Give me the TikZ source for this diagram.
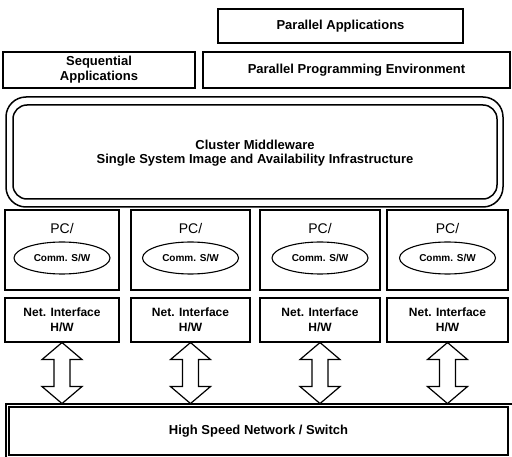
\documentclass[tikz,border=0pt]{standalone}
\usepackage{fontspec}
\setmainfont{Liberation Sans}
\usetikzlibrary{shapes.geometric}
\tikzset{
  box/.style={draw, line width=1.1pt, inner sep=0pt, align=center, font=\fontsize{13}{15}\selectfont\bfseries},
  netbox/.style={draw, line width=1.1pt, inner sep=0pt, align=center, font=\fontsize{12}{15}\selectfont\bfseries},
  pcbox/.style={draw, line width=1.1pt, inner sep=0pt},
  comm/.style={draw, ellipse, line width=1.1pt, minimum width=96pt, minimum height=32pt, inner sep=0pt, font=\fontsize{10}{12}\selectfont\bfseries},
  pclabel/.style={font=\fontsize{14}{16}\selectfont, inner sep=0pt},
  bigarrow/.style={draw, line width=1.2pt, fill=white, line join=miter},
  mwline/.style={draw, line width=1.5pt}
}
\begin{document}
\begin{tikzpicture}[x=1pt,y=-1pt]
\useasboundingbox (0,0) rectangle (512,457);
% top boxes
\node[box, minimum width=245pt, minimum height=34pt] (pa) at (340.5,26) {Parallel Applications};
\node[box, minimum width=192pt, minimum height=36pt] (seq) at (99,70) {Sequential\\Applications};
\node[box, minimum width=307pt, minimum height=36pt] (ppe) at (356.5,70) {Parallel Programming Environment};
% middleware
\draw[mwline, rounded corners=20pt] (6,97) rectangle (503,207);
\draw[mwline, rounded corners=14pt] (13,105) rectangle (497,199);
\node[align=center, inner sep=0pt, font=\fontsize{13}{14.5}\selectfont\bfseries] (mw) at (255,153) {Cluster Middleware\\Single System Image and Availability Infrastructure};
% PC boxes
\foreach \i/\l/\r in {1/5/119, 2/131/250, 3/260/380, 4/387/508}{
  \pgfmathsetmacro{\cx}{(\l+\r)/2}
  \pgfmathsetmacro{\w}{\r-\l}
  \node[pcbox, minimum width=\w pt, minimum height=80pt] (pc\i) at (\cx,250) {};
  \node[pclabel] (pcl\i) at (\cx,228) {PC/};
  \node[comm] (cs\i) at (\cx,258) {Comm. S/W};
  \node[netbox, minimum width=\w pt, minimum height=44pt] (ni\i) at (\cx,320) {Net. Interface\\H/W};
}
% network
\draw[line width=1.1pt] (6,404) rectangle (515,460);
\node[draw, line width=1.1pt, minimum width=499pt, minimum height=48pt, inner sep=0pt, font=\fontsize{13}{15}\selectfont\bfseries] (net) at (258.5,431) {High Speed Network / Switch};
% double arrows
\foreach \i in {1,2,3,4}{
  \draw[bigarrow] (ni\i.south) -- ++(20,17) -- ++(-12,0) -- ++(0,27) -- ++(12,0) -- ++(-20,17) -- ++(-20,-17) -- ++(12,0) -- ++(0,-27) -- ++(-12,0) -- cycle;
}
\end{tikzpicture}
\end{document}
